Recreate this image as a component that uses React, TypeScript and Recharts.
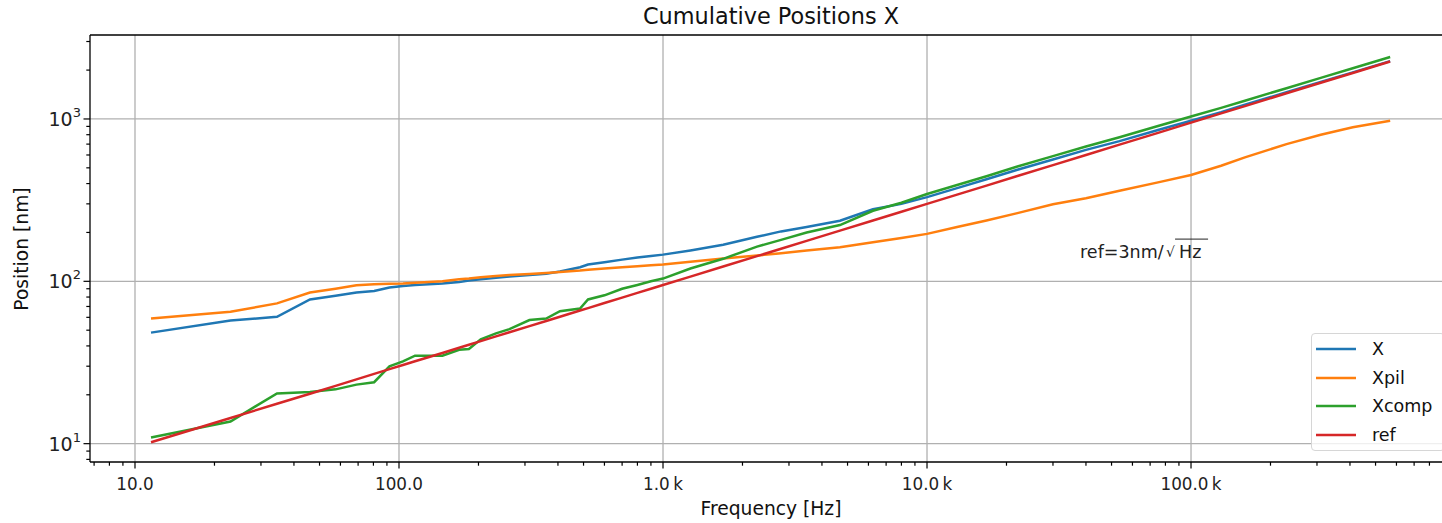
import React from "react";
import { LineChart, Line, XAxis, YAxis, CartesianGrid, Legend, ReferenceLine, ReferenceDot } from "recharts";

// frequency bins (Hz) shared by all series
const freqHz = [
  11.5, 23, 34.5, 46, 57.5, 69, 80.5, 92, 103.5, 115, 146, 169, 184, 204, 233, 262, 312, 361, 407, 485, 520, 600,
  700, 800, 900, 1000, 1270, 1690, 2270, 2800, 3500, 4680, 6240, 8000, 10000, 13000, 16800, 22000, 30000, 40000,
  53600, 75000, 100000, 130000, 160000, 230000, 310000, 410000, 568000,
];

// cumulative positions (nm)
const posX = [
  48.3, 57.3, 60.5, 77.3, 81.5, 85.3, 87.3, 91.5, 93.5, 95, 96.8, 99, 101, 103, 105, 107, 109.5, 111.5, 115, 122, 127,
  131, 136, 140, 143, 146, 155, 168, 188, 203, 216, 236, 278, 300, 330, 375, 425, 487, 563, 645, 730, 855, 976, 1100,
  1225, 1460, 1690, 1935, 2270,
];
const posXpil = [
  59.1, 64.9, 73.1, 85.3, 90, 94.5, 96, 96.5, 97, 98, 100, 103, 104, 106, 108, 109.5, 111, 112.5, 114, 116.5, 118, 120,
  122, 124, 125.5, 127, 132, 138, 144, 149, 155, 162, 174, 185, 196, 216, 237, 263, 298, 325, 361, 407, 452, 515, 580,
  700, 800, 890, 975,
];
const posXcomp = [
  10.9, 13.7, 20.4, 20.8, 21.6, 23.1, 23.9, 29.9, 32.1, 34.8, 34.8, 37.9, 38.3, 43.9, 47.8, 50.8, 57.7, 59, 65.5, 68,
  77.3, 82, 90, 95, 100, 104, 120, 137.6, 163.6, 180, 200, 222, 272, 305, 345, 392, 444, 510, 590, 676, 771, 905, 1035,
  1170, 1296, 1547, 1790, 2054, 2410,
];
const posRef = [
  10.2, 14.4, 17.6, 20.3, 22.7, 24.9, 26.9, 28.8, 30.5, 32.2, 36.2, 39, 40.7, 42.8, 45.8, 48.6, 53, 57, 60.5, 66.1,
  68.4, 73.5, 79.4, 84.9, 90, 94.9, 106.9, 123.3, 142.9, 158.7, 177.5, 205.2, 237, 268.3, 300, 342, 388.8, 445, 519.6,
  600, 694.5, 821.6, 948.7, 1081.7, 1200, 1438.8, 1670.3, 1921, 2261,
];

const seriesNames = ["X", "Xpil", "Xcomp", "ref"];
const seriesColors = ["#1f77b4", "#ff7f0e", "#2ca02c", "#d62728"];

const freqMajor = [10, 100, 1000, 10000, 100000];
const freqLabels = ["10.0", "100.0", "1.0\u2009k", "10.0\u2009k", "100.0\u2009k"];
const posMajor = [10, 100, 1000];
const posExponents = ["1", "2", "3"];

const xDomain = [6.754, 974000];
const yDomain = [7.71, 3290];

const data = freqHz.map((f, i) => ({
  f,
  X: posX[i],
  Xpil: posXpil[i],
  Xcomp: posXcomp[i],
  ref: posRef[i],
}));

// log minor ticks 2..9 per decade inside the domain
function logTicks(lo: number, hi: number) {
  const out: number[] = [];
  for (let e = Math.floor(Math.log10(lo)); e <= Math.ceil(Math.log10(hi)); e++) {
    for (let m = 1; m <= 9; m++) {
      const v = Number((m * Math.pow(10, e)).toPrecision(3));
      if (v >= lo && v <= hi) out.push(v);
    }
  }
  return out;
}
const xTicks = logTicks(xDomain[0], xDomain[1]);
const yTicks = logTicks(yDomain[0], yDomain[1]);

const FONT = "DejaVu Sans, sans-serif";
const INK = "#000";

function FreqTick(props: any) {
  const { x, y, payload } = props;
  const idx = freqMajor.indexOf(payload.value);
  const major = idx >= 0;
  return (
    <g>
      <line x1={x} x2={x} y1={y} y2={y + (major ? 6.5 : 3.7)} stroke={INK} strokeWidth={1.2} />
      {major && (
        <text x={x} y={y + 27.5} textAnchor="middle" fontSize={16.8} fontFamily={FONT} fill="#222">
          {freqLabels[idx]}
        </text>
      )}
    </g>
  );
}

function PosTick(props: any) {
  const { x, y, payload } = props;
  const idx = posMajor.indexOf(payload.value);
  const major = idx >= 0;
  return (
    <g>
      <line x1={x - (major ? 6.5 : 3.7)} x2={x} y1={y} y2={y} stroke={INK} strokeWidth={1.2} />
      {major && (
        <text x={x - 9} y={y + 7} textAnchor="end" fontSize={19} fontFamily={FONT} fill="#222">
          10
          <tspan fontSize={13} dy={-9}>
            {posExponents[idx]}
          </tspan>
        </text>
      )}
    </g>
  );
}

// "ref=3nm/√Hz" note with the radical bar over Hz
function RefNote(props: any) {
  const { cx, cy } = props;
  return (
    <g fontFamily={FONT} fill="#222">
      <text x={cx} y={cy} fontSize={17.5}>
        ref=3nm/
      </text>
      <text x={cx + 86} y={cy - 1} fontSize={14}>
        √
      </text>
      <text x={cx + 99} y={cy} fontSize={17.5}>
        Hz
      </text>
      <line x1={cx + 95} x2={cx + 128} y1={cy - 19} y2={cy - 19} stroke="#222" strokeWidth={1} />
    </g>
  );
}

function LegendBox(props: any) {
  const items = [...(props.payload || [])].sort(
    (a: any, b: any) => seriesNames.indexOf(a.value) - seriesNames.indexOf(b.value)
  );
  return (
    <div
      style={{
        boxSizing: "border-box",
        width: 134,
        height: 118,
        border: "1px solid #d6d6d6",
        borderRadius: 4,
        background: "rgba(255,255,255,0.8)",
        padding: "1px 0 0 4px",
        fontFamily: FONT,
        fontSize: 17.5,
        color: "#111",
      }}
    >
      {items.map((p: any) => (
        <div key={p.value} style={{ display: "flex", alignItems: "center", height: 28.6 }}>
          <svg width={40} height={6} style={{ display: "block" }}>
            <line x1={0} x2={40} y1={3} y2={3} stroke={p.color} strokeWidth={2.5} />
          </svg>
          <span style={{ marginLeft: 16 }}>{p.value}</span>
        </div>
      ))}
    </div>
  );
}

export default function App() {
  return (
    <div
      style={{
        position: "absolute",
        left: 0,
        top: 0,
        width: 1442,
        height: 523,
        overflow: "hidden",
        background: "#fff",
        fontFamily: FONT,
      }}
    >
      <LineChart width={1452} height={523} data={data} margin={{ top: 35, right: 0, bottom: 0, left: 0 }}>
        <CartesianGrid
          horizontalValues={posMajor}
          verticalValues={freqMajor}
          stroke="#b0b0b0"
          strokeWidth={1.3}
          strokeDasharray=""
        />
        <XAxis
          type="number"
          dataKey="f"
          scale="log"
          domain={xDomain}
          allowDataOverflow
          ticks={xTicks}
          interval={0}
          tickSize={0}
          tickMargin={0}
          tickLine={false}
          tick={(p: any) => <FreqTick {...p} />}
          axisLine={{ stroke: INK, strokeWidth: 1.3 }}
          height={61}
        />
        <YAxis
          type="number"
          scale="log"
          domain={yDomain}
          allowDataOverflow
          ticks={yTicks}
          interval={0}
          tickSize={0}
          tickMargin={0}
          tickLine={false}
          tick={(p: any) => <PosTick {...p} />}
          axisLine={{ stroke: INK, strokeWidth: 1.3 }}
          width={90}
        />
        <ReferenceLine y={yDomain[1]} stroke={INK} strokeWidth={1.3} />
        {seriesNames.map((name, i) => (
          <Line
            key={name}
            type="linear"
            dataKey={name}
            name={name}
            stroke={seriesColors[i]}
            strokeWidth={2.5}
            dot={false}
            activeDot={false}
            isAnimationActive={false}
          />
        ))}
        <ReferenceDot x={38000} y={139} r={0} shape={(p: any) => <RefNote {...p} />} />
        <Legend
          layout="vertical"
          align="center"
          verticalAlign="middle"
          content={(p: any) => <LegendBox {...p} />}
          wrapperStyle={{ position: "absolute", left: 1311, top: 333, width: 134, height: 118 }}
        />
      </LineChart>
      <div
        style={{
          position: "absolute",
          left: 0,
          top: 4,
          width: 1542,
          textAlign: "center",
          fontSize: 22.4,
          lineHeight: "24px",
          color: "#111",
        }}
      >
        Cumulative Positions X
      </div>
      <div
        style={{
          position: "absolute",
          left: 0,
          top: 498,
          width: 1542,
          textAlign: "center",
          fontSize: 18.7,
          lineHeight: "22px",
          color: "#111",
        }}
      >
        Frequency [Hz]
      </div>
      <div
        style={{
          position: "absolute",
          left: 22 - 100,
          top: 249 - 11,
          width: 200,
          textAlign: "center",
          fontSize: 18.7,
          lineHeight: "22px",
          color: "#111",
          transform: "rotate(-90deg)",
        }}
      >
        Position [nm]
      </div>
    </div>
  );
}
